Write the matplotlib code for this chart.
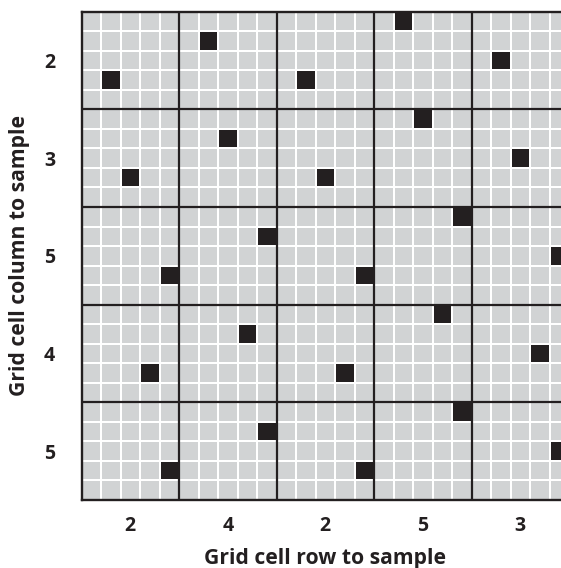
import numpy as np
import matplotlib
matplotlib.use("Agg")
import matplotlib.pyplot as plt
from matplotlib.colors import ListedColormap

# Data
col_to_sample = [2, 3, 5, 4, 5]   # y-axis labels (block rows, top to bottom)
row_to_sample = [2, 4, 2, 5, 3]   # x-axis labels (block columns, left to right)
block_size = 5

plt.rcParams['font.family'] = ['Open Sans', 'DejaVu Sans']

n = len(col_to_sample) * block_size
grid = np.zeros((n, n))
for i, c in enumerate(col_to_sample):
    for j, r in enumerate(row_to_sample):
        x = j * block_size + (c - 1)
        y = i * block_size + (block_size - r)
        grid[y, x] = 1

fig = plt.figure(figsize=(5.61, 5.68), dpi=100)
ax = fig.add_axes([81.5 / 561, 68 / 568, 487.5 / 561, 488.3 / 568])

cmap = ListedColormap(['#d1d3d4', '#231f20'])
ax.pcolormesh(np.arange(n + 1), np.arange(n + 1), grid, cmap=cmap,
              edgecolors='white', linewidth=1.4, vmin=0, vmax=1)
ax.set_xlim(0, n)
ax.set_ylim(n, 0)

for k in range(1, len(col_to_sample)):
    ax.axhline(k * block_size, color='#231f20', lw=1.6)
for k in range(1, len(row_to_sample)):
    ax.axvline(k * block_size, color='#231f20', lw=1.6)
for s in ax.spines.values():
    s.set_color('#231f20')
    s.set_linewidth(1.7)

centers = np.arange(len(row_to_sample)) * block_size + block_size / 2
ax.set_xticks(centers)
ax.set_xticklabels([str(v) for v in row_to_sample])
ax.set_yticks(np.arange(len(col_to_sample)) * block_size + block_size / 2)
ax.set_yticklabels([str(v) for v in col_to_sample])
ax.tick_params(length=0, labelsize=14, colors='#231f20')
for lab in ax.get_xticklabels() + ax.get_yticklabels():
    lab.set_fontweight('bold')
ax.tick_params(axis='x', pad=11.5)
ax.tick_params(axis='y', pad=19)

ax.set_xlabel('Grid cell row to sample', fontsize=15.2, fontweight='bold',
              color='#231f20', labelpad=8.5)
ax.set_ylabel('Grid cell column to sample', fontsize=15.2, fontweight='bold',
              color='#231f20', labelpad=10)

fig.savefig('out.png', dpi=100)
